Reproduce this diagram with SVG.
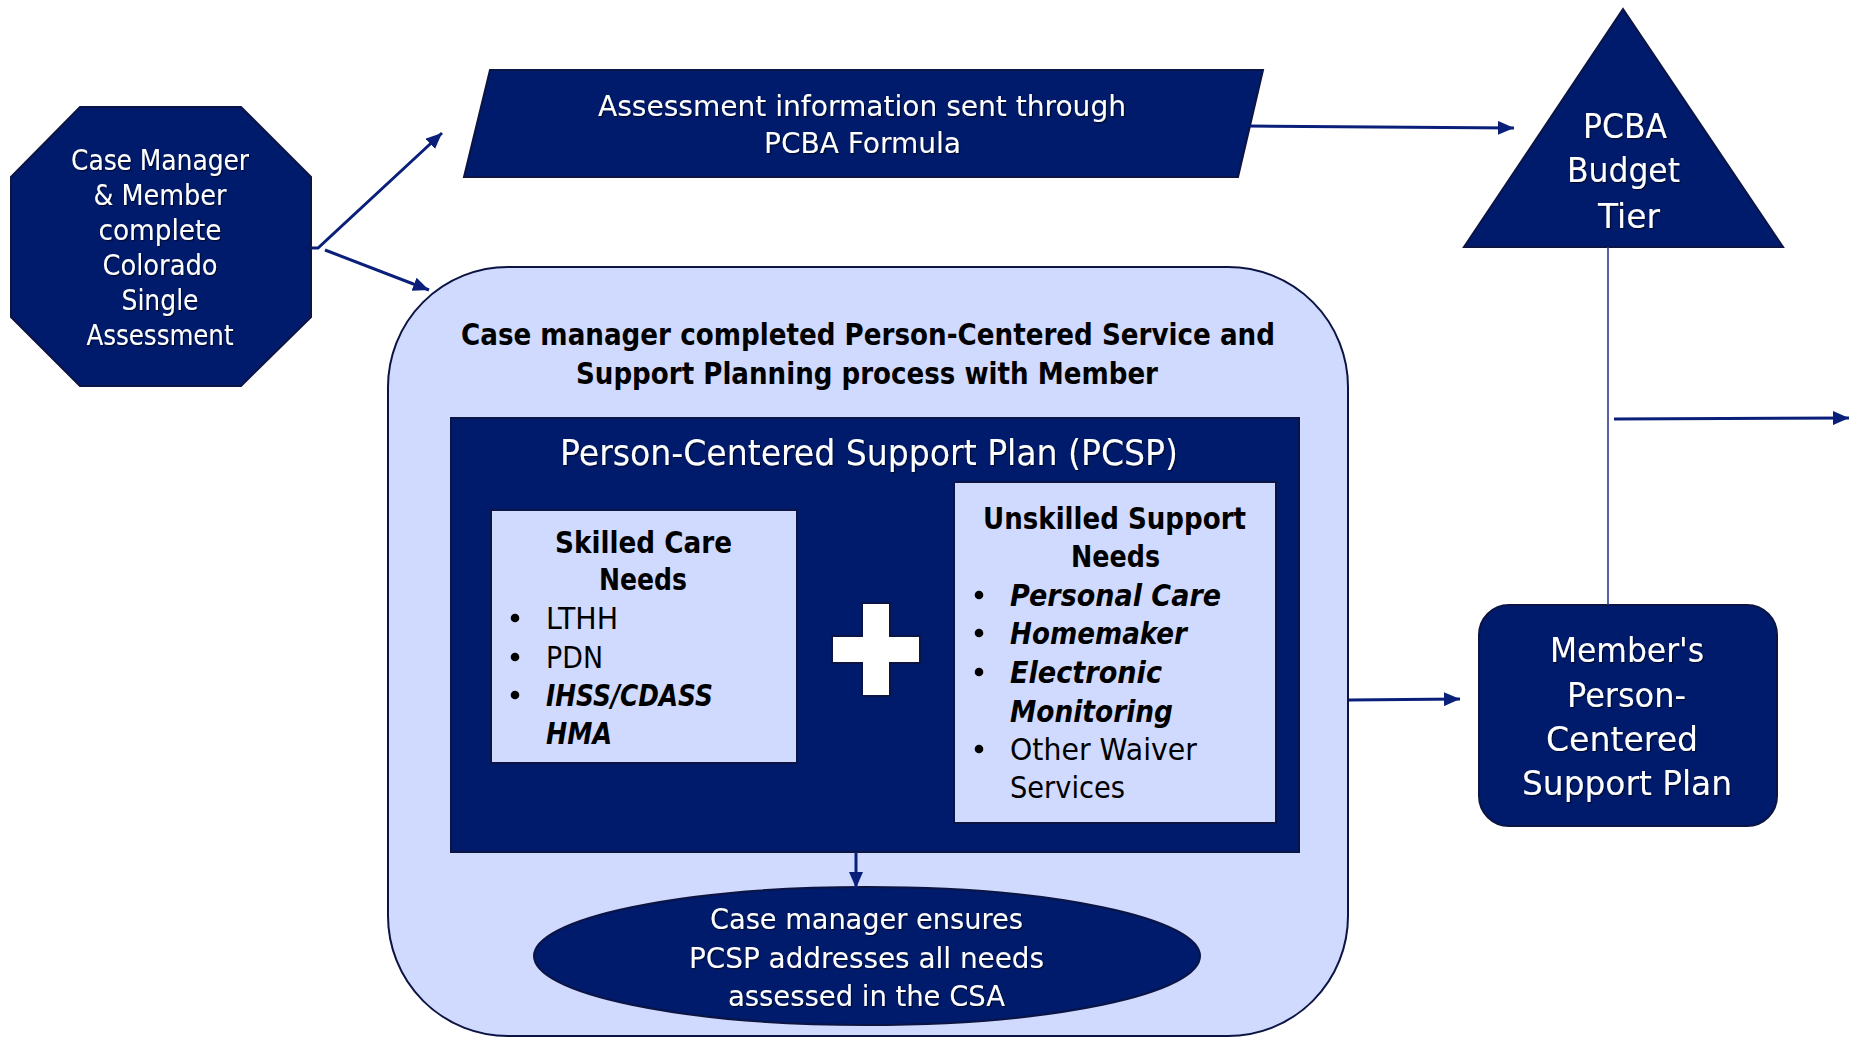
<svg xmlns="http://www.w3.org/2000/svg" width="1851" height="1038" viewBox="0 0 1851 1038">
<style>
.dark{fill:#001A6C;stroke:#0B1442;stroke-width:2}
.light{fill:#D0D9FE;stroke:#0B1442;stroke-width:2}
.w{fill:#FFFFFF;font-family:"DejaVu Sans","Liberation Sans",sans-serif;filter:url(#sh)}
.b{fill:#000000;font-family:"DejaVu Sans","Liberation Sans",sans-serif}
.bold{font-weight:bold}
.it{font-style:italic;font-weight:bold}
.con{fill:none;stroke:#0A1F7A;stroke-width:3}
.thin{fill:none;stroke:#2B3A8F;stroke-width:1.6}
</style>
<defs>
<marker id="ah" markerWidth="16" markerHeight="14" refX="16" refY="7" orient="auto" markerUnits="userSpaceOnUse">
<path d="M0,0 L16,7 L0,14 z" fill="#0A1F7A"/>
</marker>
<filter id="sh" x="-5%" y="-20%" width="110%" height="140%">
<feDropShadow dx="1.2" dy="1.2" stdDeviation="0.6" flood-color="#000000" flood-opacity="0.6"/>
</filter>
</defs>
<rect width="1851" height="1038" fill="#FFFFFF"/>

<g id="octagon">
<polygon class="dark" points="80,107 241,107 311,177 311,317 241,386 80,386 11,317 11,177"/>
<g class="w" font-size="28">
<text x="71" y="170" textLength="178" lengthAdjust="spacingAndGlyphs">Case Manager</text>
<text x="93.5" y="205" textLength="133" lengthAdjust="spacingAndGlyphs">&amp; Member</text>
<text x="98.5" y="240" textLength="123" lengthAdjust="spacingAndGlyphs">complete</text>
<text x="102.5" y="275" textLength="115" lengthAdjust="spacingAndGlyphs">Colorado</text>
<text x="121.5" y="310" textLength="77" lengthAdjust="spacingAndGlyphs">Single</text>
<text x="86.5" y="345" textLength="147" lengthAdjust="spacingAndGlyphs">Assessment</text>
</g>
</g>

<g id="assessment-info">
<polygon class="dark" points="490,70 1263,70 1238,177 464,177"/>
<g class="w" font-size="28">
<text x="598" y="116" textLength="528" lengthAdjust="spacingAndGlyphs">Assessment information sent through</text>
<text x="764" y="153" textLength="197" lengthAdjust="spacingAndGlyphs">PCBA Formula</text>
</g>
</g>

<g id="pcba-tier">
<polygon class="dark" points="1623,9 1783,247 1464,247"/>
<g class="w" font-size="34">
<text x="1583" y="138" textLength="84" lengthAdjust="spacingAndGlyphs">PCBA</text>
<text x="1567" y="182" textLength="113" lengthAdjust="spacingAndGlyphs">Budget</text>
<text x="1598" y="228" textLength="62" lengthAdjust="spacingAndGlyphs">Tier</text>
</g>
</g>

<g id="members-plan">
<rect class="dark" x="1479" y="605" width="298" height="221" rx="30" ry="30"/>
<g class="w" font-size="34">
<text x="1550" y="662" textLength="154" lengthAdjust="spacingAndGlyphs">Member's</text>
<text x="1567" y="707" textLength="119" lengthAdjust="spacingAndGlyphs">Person-</text>
<text x="1546" y="751" textLength="152" lengthAdjust="spacingAndGlyphs">Centered</text>
<text x="1522" y="795" textLength="210" lengthAdjust="spacingAndGlyphs">Support Plan</text>
</g>
</g>

<g id="planning-process">
<rect class="light" x="388" y="267" width="960" height="769" rx="120" ry="120"/>
<g class="b bold" font-size="30">
<text x="461" y="345" textLength="814" lengthAdjust="spacingAndGlyphs">Case manager completed Person-Centered Service and</text>
<text x="576" y="384" textLength="582" lengthAdjust="spacingAndGlyphs">Support Planning process with Member</text>
</g>
</g>

<g id="pcsp">
<rect class="dark" x="451" y="418" width="848" height="434"/>
<text class="w" x="560" y="465" font-size="35" textLength="618" lengthAdjust="spacingAndGlyphs">Person-Centered Support Plan (PCSP)</text>
</g>

<g id="skilled-care">
<rect class="light" x="491" y="510" width="306" height="253"/>
<g class="b" font-size="30">
<text class="bold" x="555" y="553" textLength="177" lengthAdjust="spacingAndGlyphs">Skilled Care</text>
<text class="bold" x="599" y="590" textLength="88" lengthAdjust="spacingAndGlyphs">Needs</text>
<circle cx="515" cy="618" r="4.3"/>
<text x="546" y="629" textLength="72" lengthAdjust="spacingAndGlyphs">LTHH</text>
<circle cx="515" cy="657" r="4.3"/>
<text x="546" y="668" textLength="57" lengthAdjust="spacingAndGlyphs">PDN</text>
<circle cx="515" cy="695" r="4.3"/>
<text class="it" x="546" y="706" textLength="167" lengthAdjust="spacingAndGlyphs">IHSS/CDASS</text>
<text class="it" x="546" y="744" textLength="66" lengthAdjust="spacingAndGlyphs">HMA</text>
</g>
</g>

<g id="plus">
<polygon points="862,603 890,603 890,636 920,636 920,663 890,663 890,696 862,696 862,663 832,663 832,636 862,636" fill="#FFFFFF" stroke="#0B1442" stroke-width="2"/>
</g>

<g id="unskilled-support">
<rect class="light" x="954" y="482" width="322" height="341"/>
<g class="b" font-size="30">
<text class="bold" x="983" y="529" textLength="263" lengthAdjust="spacingAndGlyphs">Unskilled Support</text>
<text class="bold" x="1071" y="567" textLength="89" lengthAdjust="spacingAndGlyphs">Needs</text>
<circle cx="979" cy="595" r="4.3"/>
<text class="it" x="1010" y="606" textLength="211" lengthAdjust="spacingAndGlyphs">Personal Care</text>
<circle cx="979" cy="633" r="4.3"/>
<text class="it" x="1010" y="644" textLength="177" lengthAdjust="spacingAndGlyphs">Homemaker</text>
<circle cx="979" cy="672" r="4.3"/>
<text class="it" x="1010" y="683" textLength="152" lengthAdjust="spacingAndGlyphs">Electronic</text>
<text class="it" x="1010" y="722" textLength="163" lengthAdjust="spacingAndGlyphs">Monitoring</text>
<circle cx="979" cy="749" r="4.3"/>
<text x="1010" y="760" textLength="187" lengthAdjust="spacingAndGlyphs">Other Waiver</text>
<text x="1010" y="798" textLength="115" lengthAdjust="spacingAndGlyphs">Services</text>
</g>
</g>

<g id="ensures">
<ellipse class="dark" cx="867" cy="956" rx="333" ry="69"/>
<g class="w" font-size="29">
<text x="710" y="929" textLength="313" lengthAdjust="spacingAndGlyphs">Case manager ensures</text>
<text x="689" y="968" textLength="355" lengthAdjust="spacingAndGlyphs">PCSP addresses all needs</text>
<text x="728" y="1006" textLength="277" lengthAdjust="spacingAndGlyphs">assessed in the CSA</text>
</g>
</g>

<g id="connectors">
<polyline class="con" points="311,248 318,248 442,133" marker-end="url(#ah)"/>
<line class="con" x1="325" y1="250" x2="429" y2="290" marker-end="url(#ah)"/>
<line class="con" x1="1250" y1="126" x2="1514" y2="128" marker-end="url(#ah)"/>
<line class="thin" x1="1608" y1="247" x2="1608" y2="605"/>
<line class="con" x1="1614" y1="419" x2="1849" y2="418" marker-end="url(#ah)"/>
<line class="con" x1="1349" y1="700" x2="1460" y2="699" marker-end="url(#ah)"/>
<line class="con" x1="856" y1="852" x2="856" y2="888" stroke-width="2.5" marker-end="url(#ah)"/>
</g>
</svg>
